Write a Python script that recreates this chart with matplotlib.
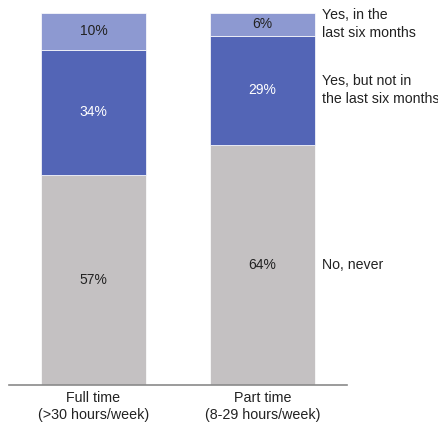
import numpy as np
import matplotlib.pyplot as plt

plt.rcParams['font.family'] = ['Liberation Sans', 'DejaVu Sans']

groups = ['Full time\n(>30 hours/week)', 'Part time\n(8-29 hours/week)']
series = ['No, never', 'Yes, but not in\nthe last six months', 'Yes, in the\nlast six months']
never = [57, 64]
not_recent = [34, 29]
recent = [10, 6]

colors = ['#c4c1c2', '#5365b6', '#8d99d1']
text_colors = ['#222222', 'white', '#222222']

values = np.array([never, not_recent, recent], dtype=float)
shares = values / values.sum(axis=0)  # each bar fills the full height

fig = plt.figure(figsize=(4.38, 4.23), dpi=100)
ax = fig.add_axes([9 / 438, 38 / 423, 338 / 438, 372 / 423])

x = np.arange(len(groups))
bottom = np.zeros(len(groups))
for i in range(len(series)):
    ax.bar(x, shares[i], 0.62, bottom=bottom, color=colors[i],
           edgecolor='white', linewidth=0.5)
    for j in range(len(groups)):
        ax.text(x[j], bottom[j] + shares[i][j] / 2, '%d%%' % values[i][j],
                ha='center', va='center', fontsize=10, color=text_colors[i])
    # category labels next to the last bar
    ax.text(x[-1] + 0.352, bottom[-1] + shares[i][-1] / 2, series[i],
            ha='left', va='center', fontsize=10.2, color='#222222',
            linespacing=1.35, clip_on=False)
    bottom += shares[i]

ax.set_xlim(-0.5, 1.5)
ax.set_ylim(0, 1)
ax.set_xticks(x)
ax.set_xticklabels(groups, fontsize=10.3, color='#222222', linespacing=1.35)
ax.tick_params(axis='x', length=0, pad=4)
ax.set_yticks([])
for s in ['top', 'right', 'left']:
    ax.spines[s].set_visible(False)
ax.spines['bottom'].set_color('#8a8a8a')
ax.spines['bottom'].set_linewidth(1.2)

fig.savefig('out.png', dpi=100)
